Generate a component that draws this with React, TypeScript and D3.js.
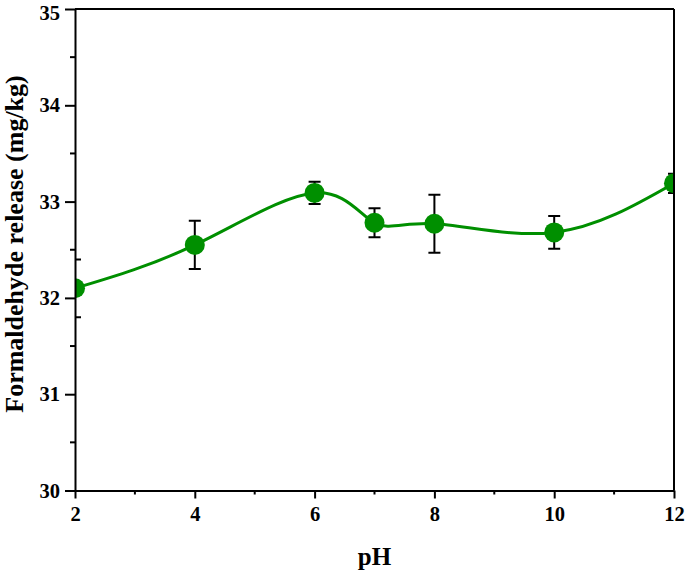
import React, { useEffect, useRef } from 'react';
import * as d3 from 'd3';

const phValues = [2, 4, 6, 7, 8, 10, 12];
const releaseValues = [32.1, 32.55, 33.09, 32.78, 32.77, 32.68, 33.19];
const errorValues = [0.3, 0.25, 0.115, 0.15, 0.3, 0.17, 0.1];
const xTicks = [2, 4, 6, 8, 10, 12];
const yTicks = [30, 31, 32, 33, 34, 35];

export default function App() {
  const chartRef = useRef<SVGSVGElement>(null);

  useEffect(() => {
    const svg = d3.select(chartRef.current);
    svg.selectAll('*').remove();

    const margin = { top: 9, right: 11, bottom: 81.5, left: 75 };
    const width = 685;
    const height = 572;
    const font = '"Liberation Serif", "Times New Roman", serif';
    const green = '#008f00';

    const data = phValues.map((ph, i) => ({ ph, v: releaseValues[i], e: errorValues[i] }));

    const x = d3.scaleLinear().domain([2, 12]).range([margin.left, width - margin.right]);
    const y = d3.scaleLinear().domain([30, 35]).range([height - margin.bottom, margin.top]);

    svg.append('defs').append('clipPath').attr('id', 'plotclip')
      .append('rect')
      .attr('x', x(2)).attr('y', y(35))
      .attr('width', x(12) - x(2)).attr('height', y(30) - y(35));

    const plot = svg.append('g').attr('clip-path', 'url(#plotclip)');

    const line = d3.line<any>()
      .x(d => x(d.ph))
      .y(d => y(d.v))
      .curve(d3.curveNatural);

    plot.append('path')
      .datum(data)
      .attr('fill', 'none')
      .attr('stroke', green)
      .attr('stroke-width', 3)
      .attr('d', line);

    // error bars
    const eb = plot.append('g').attr('stroke', '#000').attr('stroke-width', 2);
    data.forEach(d => {
      eb.append('line').attr('x1', x(d.ph)).attr('x2', x(d.ph))
        .attr('y1', y(d.v + d.e)).attr('y2', y(d.v - d.e));
      [d.v + d.e, d.v - d.e].forEach(c => {
        eb.append('line').attr('x1', x(d.ph) - 6).attr('x2', x(d.ph) + 6)
          .attr('y1', y(c)).attr('y2', y(c));
      });
    });

    plot.selectAll('circle.pt')
      .data(data)
      .enter().append('circle')
      .attr('cx', d => x(d.ph))
      .attr('cy', d => y(d.v))
      .attr('r', 10)
      .attr('fill', green);

    // frame
    const frame = svg.append('g').attr('stroke', '#000').attr('stroke-width', 2).attr('fill', 'none');
    frame.append('line').attr('x1', x(2)).attr('x2', x(12)).attr('y1', y(35)).attr('y2', y(35));
    frame.append('line').attr('x1', x(12)).attr('x2', x(12)).attr('y1', y(35)).attr('y2', y(30));

    // x axis
    const xAxis = svg.append('g')
      .attr('transform', `translate(0,${y(30)})`)
      .call(d3.axisBottom(x).tickValues(xTicks).tickSize(8).tickSizeOuter(0).tickPadding(8).tickFormat(d3.format('d')));
    xAxis.append('g').selectAll('line')
      .data(d3.range(3, 12, 2))
      .enter().append('line')
      .attr('x1', d => x(d)).attr('x2', d => x(d))
      .attr('y1', 0).attr('y2', 4)
      .attr('stroke', '#000');

    // y axis
    const yAxis = svg.append('g')
      .attr('transform', `translate(${x(2)},0)`)
      .call(d3.axisLeft(y).tickValues(yTicks).tickSize(10).tickSizeOuter(0).tickPadding(5).tickFormat(d3.format('d')));
    yAxis.append('g').selectAll('line')
      .data(d3.range(30.5, 35, 1))
      .enter().append('line')
      .attr('x1', 0).attr('x2', -5)
      .attr('y1', d => y(d)).attr('y2', d => y(d))
      .attr('stroke', '#000');

    [xAxis, yAxis].forEach(a => {
      a.selectAll('path, line').attr('stroke', '#000').attr('stroke-width', 2);
      a.selectAll('text')
        .attr('font-family', font)
        .attr('font-weight', 'bold')
        .attr('font-size', 20.5)
        .attr('fill', '#000');
    });
    // keep the top label inside the page
    yAxis.selectAll<SVGTextElement, number>('.tick text')
      .filter(d => d === 35)
      .attr('dy', '0.5em');

    svg.append('text')
      .attr('x', (x(2) + x(12)) / 2)
      .attr('y', 565)
      .attr('text-anchor', 'middle')
      .attr('font-family', font)
      .attr('font-weight', 'bold')
      .attr('font-size', 25)
      .text('pH');

    svg.append('text')
      .attr('transform', `translate(23,244) rotate(-90)`)
      .attr('text-anchor', 'middle')
      .attr('font-family', font)
      .attr('font-weight', 'bold')
      .attr('font-size', 26)
      .text('Formaldehyde release (mg/kg)');
  }, []);

  return (
    <svg
      ref={chartRef}
      width={685}
      height={572}
      style={{ position: 'absolute', left: 0, top: 0, background: '#fff' }}
    />
  );
}
